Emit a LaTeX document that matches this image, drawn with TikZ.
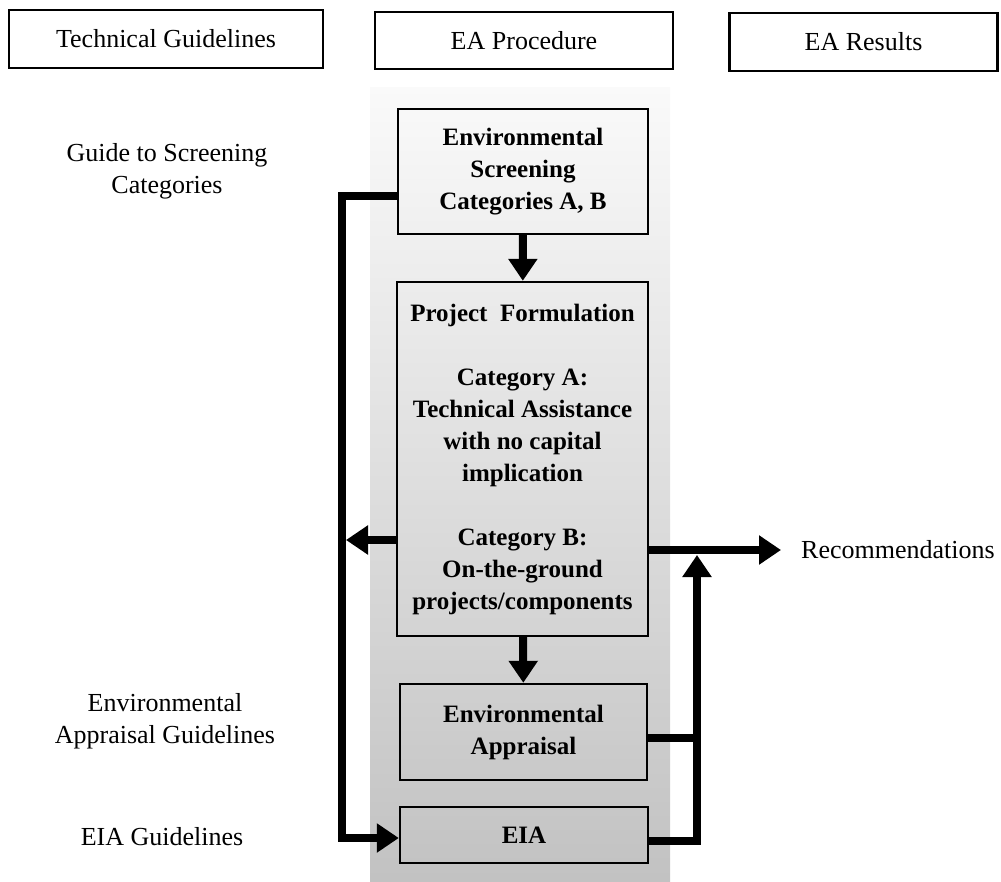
\documentclass[tikz,border=0pt]{standalone}
\usepackage{fontspec}
\setmainfont{Liberation Serif}
\usetikzlibrary{arrows.meta}
\begin{document}
\begin{tikzpicture}[x=1pt,y=-1pt,
  hdr/.style={draw=black, line width=2.4pt, inner sep=0pt, font=\fontsize{26}{32}\selectfont},
  procbox/.style={draw=black, line width=2.4pt, inner sep=0pt, align=center, font=\fontsize{25}{32}\selectfont\bfseries},
  guide/.style={inner sep=0pt, align=center, font=\fontsize{26}{32}\selectfont},
  flow/.style={line width=8pt},
  arr/.style={line width=8pt, -{Triangle[length=22pt,width=28pt]}}]
\useasboundingbox (0,0) rectangle (1001,882);
% stippled column behind the procedure
\shade[top color=black!2, bottom color=black!24] (370,88) rectangle (670,882);
% header boxes
\node[hdr, minimum width=314pt, minimum height=58pt] (h1) at (166,39) {Technical Guidelines};
\node[hdr, minimum width=298pt, minimum height=57pt] (h2) at (524,40.5) {EA Procedure};
\node[hdr, minimum width=268pt, minimum height=58pt] (h3) at (863.5,42) {EA Results};
% guideline labels
\node[guide] (g1) at (167,171) {Guide to Screening\\Categories};
\node[guide] (g2) at (165,721) {Environmental\\Appraisal Guidelines};
\node[guide] (g3) at (162,837) {EIA Guidelines};
% procedure boxes
\node[procbox, minimum width=250pt, minimum height=125pt] (scr) at (523,171.5)
  {Environmental\\Screening\\Categories A, B};
\node[procbox, minimum width=251pt, minimum height=354pt] (proj) at (522.5,459)
  {Project\hspace{0.5em}Formulation\\[32pt]Category A:\\Technical Assistance\\with no capital\\implication\\[32pt]Category B:\\On-the-ground\\projects/components};
\node[procbox, minimum width=247pt, minimum height=96pt] (app) at (523.5,732)
  {Environmental\\Appraisal};
\node[procbox, minimum width=248pt, minimum height=56pt] (eia) at (524,835) {EIA};
% result
\node[guide, anchor=west] (rec) at (801,550) {Recommendations};
% helper coordinates
\coordinate (lx) at (342,838);
\coordinate (up) at (697,555);
% connectors
\draw[arr] (scr) -- (proj);
\draw[arr] (proj) -- (app);
\draw[arr] ([yshift=-25pt]scr.west) -| (lx) -- (lx -| eia.west);
\draw[arr, shorten >=4pt] ([yshift=-81pt]proj.west) -- ([yshift=-81pt]proj.west -| lx);
\draw[arr] (proj.east |- rec.west) -- ([xshift=-20pt]rec.west);
\draw[arr] ([yshift=-6pt]eia.east) -| (up);
\draw[flow] ([yshift=-6pt]app.east) -- ([yshift=-6pt]app.east -| up);
\end{tikzpicture}
\end{document}
